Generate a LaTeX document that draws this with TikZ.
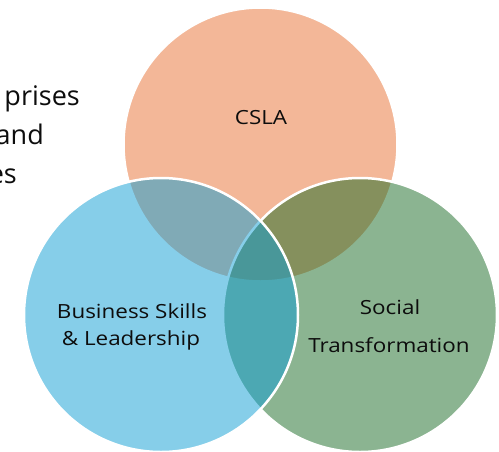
\documentclass[tikz,border=0pt]{standalone}
\usepackage{fontspec}
\setmainfont{Open Sans}[FakeStretch=1.15]
\newfontfamily\sidefont{Open Sans}
\definecolor{cslabase}{HTML}{E97132}
\definecolor{bizbase}{HTML}{0F9ED5}
\definecolor{socbase}{HTML}{196B24}
\definecolor{txt}{HTML}{0D0D0D}
\begin{document}
\begin{tikzpicture}[x=1pt,y=-1pt,
  venn/.style={draw=white,line width=2.5pt,fill opacity=0.5,draw opacity=1},
  lbl/.style={text=txt,inner sep=0pt,anchor=base,font=\fontsize{19.5}{23}\selectfont},
  side/.style={text=txt,inner sep=0pt,anchor=base east,font=\sidefont\fontsize{27}{32}\selectfont}]
\useasboundingbox (0,0) rectangle (499,451);
\fill[white] (0,0) rectangle (499,451);
\node[side] (t1) at (80,105) {prises};
\node[side] (t2) at (44,144) {and};
\node[side] (t3) at (17,183) {es};
\path[venn,fill=cslabase] (260.5,144.5) circle[radius=137];
\path[venn,fill=socbase] (360,315) circle[radius=137];
\path[venn,fill=bizbase] (161,315) circle[radius=137];
\node[lbl] (csla) at (261,124) {CSLA};
\node[lbl] (biz1) at (132,318) {Business Skills};
\node[lbl] (biz2) at (131,345) {\& Leadership};
\node[lbl] (soc1) at (390,314) {Social};
\node[lbl] (soc2) at (389,352) {Transformation};
\end{tikzpicture}
\end{document}
